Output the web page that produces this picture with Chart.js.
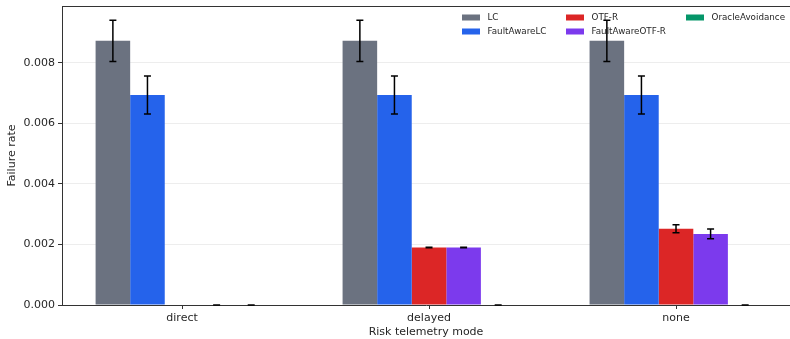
<!DOCTYPE html>
<html>
<head>
<meta charset="utf-8">
<script src="https://cdn.jsdelivr.net/npm/chart.js@4/dist/chart.umd.min.js"></script>
<style>
  html, body { margin: 0; padding: 0; background: #fff; }
  #wrap { width: 790px; height: 339px; }
</style>
</head>
<body>
<div id="wrap"><canvas id="chart" width="790" height="339"></canvas></div>
<script>
// telemetry modes on the x axis, one bar per method in each group
const modes = ["direct", "delayed", "none"];
const methods = ["LC", "FaultAwareLC", "OTF-R", "FaultAwareOTF-R", "OracleAvoidance"];
const colors = ["#6b7280", "#2563eb", "#dc2626", "#7c3aed", "#059669"];

// mean failure rate per mode
const lcRate = [0.00873, 0.00873, 0.00873];
const faultAwareLcRate = [0.00694, 0.00694, 0.00694];
const otfRate = [0, 0.00190, 0.00252];
const faultAwareOtfRate = [0, 0.00190, 0.00235];
const oracleRate = [0, 0, 0];

// half-width of the error bars (null = no bar drawn)
const lcErr = [0.00068, 0.00068, 0.00068];
const faultAwareLcErr = [0.00063, 0.00063, 0.00063];
const otfErr = [null, 0.00001, 0.00013];
const faultAwareOtfErr = [0, 0.00001, 0.00016];
const oracleErr = [0, 0, 0];

const yTicks = [0, 0.002, 0.004, 0.006, 0.008];

const rates = [lcRate, faultAwareLcRate, otfRate, faultAwareOtfRate, oracleRate];
const errs = [lcErr, faultAwareLcErr, otfErr, faultAwareOtfErr, oracleErr];

const FONT = "'DejaVu Sans', sans-serif";
const INK = "#262626";
Chart.defaults.font.family = FONT;
Chart.defaults.color = INK;

// matplotlib-style legend: 3 columns filled top to bottom, no frame
const legendCols = [462, 566, 686];
const legendRows = [17.5, 31.5];

const extras = {
  id: "extras",
  afterDatasetsDraw(chart) {
    const { ctx, chartArea, scales } = chart;
    ctx.save();

    // top spine
    ctx.strokeStyle = "#333";
    ctx.lineWidth = 1;
    ctx.beginPath();
    ctx.moveTo(chartArea.left, chartArea.top + 0.5);
    ctx.lineTo(chartArea.right, chartArea.top + 0.5);
    ctx.stroke();

    // legend
    ctx.font = "8.75px " + FONT;
    ctx.textBaseline = "middle";
    methods.forEach((name, k) => {
      const x = legendCols[Math.floor(k / 2)];
      const y = legendRows[k % 2];
      ctx.fillStyle = colors[k];
      ctx.fillRect(x, y - 3, 18, 6);
      ctx.fillStyle = INK;
      ctx.fillText(name, x + 25.5, y);
    });

    // error bars
    ctx.strokeStyle = "#000";
    ctx.lineWidth = 1.5;
    chart.data.datasets.forEach((ds, i) => {
      const meta = chart.getDatasetMeta(i);
      meta.data.forEach((bar, j) => {
        const e = errs[i][j];
        if (e === null) return;
        const v = rates[i][j];
        const yHi = scales.y.getPixelForValue(v + e);
        const yLo = scales.y.getPixelForValue(v - e);
        ctx.beginPath();
        ctx.moveTo(bar.x, yHi);
        ctx.lineTo(bar.x, yLo);
        ctx.moveTo(bar.x - 3.5, yHi);
        ctx.lineTo(bar.x + 3.5, yHi);
        ctx.moveTo(bar.x - 3.5, yLo);
        ctx.lineTo(bar.x + 3.5, yLo);
        ctx.stroke();
      });
    });
    ctx.restore();
  }
};

new Chart(document.getElementById("chart"), {
  type: "bar",
  data: {
    datasets: methods.map((name, i) => ({
      label: name,
      data: modes.map((_, j) => ({ x: j, y: rates[i][j] })),
      backgroundColor: colors[i],
      borderWidth: 0,
      categoryPercentage: 0.7,
      barPercentage: 1.0,
    })),
  },
  options: {
    responsive: false,
    animation: false,
    devicePixelRatio: 1,
    layout: { padding: { top: 6, left: 0, right: 0, bottom: 0 } },
    plugins: {
      legend: { display: false },
      tooltip: { enabled: false },
    },
    scales: {
      x: {
        type: "linear",
        offset: false,
        min: -0.486,
        max: 2.4615,
        afterBuildTicks: (s) => { s.ticks = modes.map((_, i) => ({ value: i })); },
        afterFit: (s) => { s.height = 34; s.paddingLeft = 0; s.paddingRight = 0; },
        ticks: {
          callback: (v) => modes[v],
          font: { size: 11 },
          padding: 3,
          maxRotation: 0,
        },
        grid: { offset: false, drawOnChartArea: false, drawTicks: true, tickLength: 4, tickColor: "#333" },
        border: { color: "#333", width: 1 },
        title: {
          display: true,
          text: "Risk telemetry mode",
          font: { size: 11 },
          padding: { top: 0, bottom: 0.5 },
        },
      },
      y: {
        min: 0,
        max: 0.00988,
        afterBuildTicks: (s) => { s.ticks = yTicks.map((v) => ({ value: v })); },
        afterFit: (s) => { s.width = 62; s.paddingTop = 0; s.paddingBottom = 0; },
        ticks: {
          callback: (v) => v.toFixed(3),
          font: { size: 11 },
          padding: 3,
        },
        grid: { color: "rgba(0,0,0,0.07)", tickLength: 4, tickColor: "#333" },
        border: { color: "#333", width: 1 },
        title: {
          display: true,
          text: "Failure rate",
          font: { size: 11 },
          padding: { top: 6, bottom: 0 },
        },
      },
    },
  },
  plugins: [extras],
});
</script>
</body>
</html>
